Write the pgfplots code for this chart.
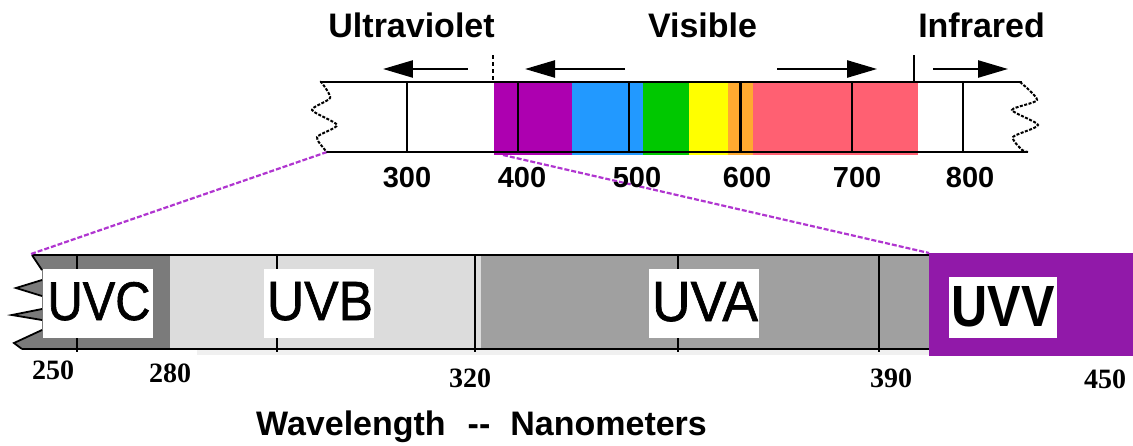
\documentclass[border=0pt]{standalone}
\usepackage{pgfplots}
\pgfplotsset{compat=1.18}
\usetikzlibrary{arrows.meta}
\usepackage{fontspec}
\setmainfont{Liberation Sans}
\newfontfamily\serifb{Liberation Serif}
\newfontfamily\semib{Liberation Sans}[FakeBold=1.2]
\definecolor{violetT}{HTML}{AD00B0}
\definecolor{blueT}{HTML}{2299FF}
\definecolor{greenT}{HTML}{00C800}
\definecolor{yellowT}{HTML}{FFFF00}
\definecolor{orangeT}{HTML}{FFAA30}
\definecolor{redT}{HTML}{FF6072}
\definecolor{uvvP}{HTML}{9119A9}
\definecolor{uvcG}{HTML}{7B7B7B}
\definecolor{uvbG}{HTML}{DCDCDC}
\definecolor{uvaG}{HTML}{A0A0A0}
\definecolor{shadowG}{HTML}{F0F0F0}
\definecolor{magL}{HTML}{B035D0}
\pgfplotsset{diag/.style={width=1133pt,height=445pt,scale only axis,hide axis,clip=false,
  ymin=0,ymax=445,y dir=reverse}}
\tikzset{bl/.style={black,line width=2.4pt},
  arr/.style={black,line width=2.4pt,-{Triangle[length=30pt,width=17pt]}},
  wav/.style={black,line width=2pt,dash pattern=on 3pt off 1.5pt,smooth,tension=0.4}}
\begin{document}
\begin{tikzpicture}
\useasboundingbox (0,0) rectangle (1133pt,445pt);
% ---------------- bottom scale (drawing units) ----------------
\begin{axis}[diag, xmin=0, xmax=1133]
 % UVC
 \addplot[fill=uvcG, draw=none] coordinates {(32,255) (42,270) (42,280) (16,288) (42,296) (42,309) (12,315) (42,320) (42,330) (14,343) (22,349) (170,349) (170,255)} -- cycle;
 % UVB
 \addplot[fill=uvbG, draw=none] coordinates {(170,255) (481,255) (481,349) (170,349)} -- cycle;
 % UVA
 \addplot[fill=uvaG, draw=none] coordinates {(481,255) (929,255) (929,349) (481,349)} -- cycle;
 % shadow
 \addplot[fill=shadowG, draw=none] coordinates {(197,350) (929,350) (929,355) (197,355)} -- cycle;
 % UVV
 \addplot[fill=uvvP, draw=none] coordinates {(929,253) (1133,253) (1133,356) (929,356)} -- cycle;
 % borders
 \addplot[bl] coordinates {(32,255) (929,255)};
 \addplot[bl] coordinates {(22,349) (929,349)};
 \addplot[black,line width=1.8pt] coordinates {(32,255) (42,270)};
 \addplot[black,line width=1.8pt] coordinates {(42,280) (16,288) (42,296)};
 \addplot[black,line width=1.8pt] coordinates {(42,309) (12,315) (42,320)};
 \addplot[black,line width=1.8pt] coordinates {(42,330) (14,343) (22,349)};
 % ticks
 \addplot[bl] coordinates {(77,255) (77,352)};
 \addplot[bl] coordinates {(277,255) (277,352)};
 \addplot[bl] coordinates {(475,255) (475,352)};
 \addplot[bl] coordinates {(678,255) (678,352)};
 \addplot[bl] coordinates {(879,255) (879,352)};
 % white label boxes
 \addplot[fill=white, draw=none] coordinates {(43,269) (153,269) (153,338) (43,338)} -- cycle;
 \addplot[fill=white, draw=none] coordinates {(264,269) (374,269) (374,338) (264,338)} -- cycle;
 \addplot[fill=white, draw=none] coordinates {(649,269) (759,269) (759,338) (649,338)} -- cycle;
 \addplot[fill=white, draw=none] coordinates {(949,277) (1057,277) (1057,338) (949,338)} -- cycle;
 \node[anchor=base,inner sep=0pt] at (axis cs:99,320) {\resizebox{103pt}{38pt}{\semib UVC}};
 \node[anchor=base,inner sep=0pt] at (axis cs:320,320) {\resizebox{106pt}{38pt}{\semib UVB}};
 \node[anchor=base,inner sep=0pt] at (axis cs:705,321) {\resizebox{106pt}{39pt}{\semib UVA}};
 \node[anchor=base,inner sep=0pt] at (axis cs:1003,326) {\resizebox{103pt}{40pt}{\bfseries UVV}};
 % tick labels
 \begin{scope}[every node/.style={anchor=base,inner sep=0pt,font=\serifb\bfseries\fontsize{28}{30}\selectfont}]
 \node at (axis cs:53,379) {250};
 \node at (axis cs:170,382) {280};
 \node at (axis cs:470,387) {320};
 \node at (axis cs:891,387) {390};
 \node at (axis cs:1105,388) {450};
 \end{scope}
 \node[anchor=base west,inner sep=0pt,font=\bfseries\fontsize{34}{38}\selectfont] at (axis cs:256,435) {Wavelength\hspace{22pt}-{}-\hspace{20pt}Nanometers};
 % zoom connector lines
 \addplot[magL,line width=2.2pt,dash pattern=on 5pt off 2pt] coordinates {(327,152) (31,254)};
 \addplot[magL,line width=2.2pt,dash pattern=on 5pt off 2pt] coordinates {(503,155) (929,253)};
\end{axis}
% ---------------- top spectrum (nanometres) ----------------
\begin{axis}[diag, xmin=-65.69, xmax=952.92]
 \addplot[fill=violetT, draw=none] coordinates {(378.4,82) (448.6,82) (448.6,155) (378.4,155)} -- cycle;
 \addplot[fill=blueT,   draw=none] coordinates {(448.6,82) (512.4,82) (512.4,155) (448.6,155)} -- cycle;
 \addplot[fill=greenT,  draw=none] coordinates {(512.4,82) (553.8,82) (553.8,155) (512.4,155)} -- cycle;
 \addplot[fill=yellowT, draw=none] coordinates {(553.8,82) (588.8,82) (588.8,155) (553.8,155)} -- cycle;
 \addplot[fill=orangeT, draw=none] coordinates {(588.8,82) (611.3,82) (611.3,155) (588.8,155)} -- cycle;
 \addplot[fill=redT,    draw=none] coordinates {(611.3,82) (759.6,82) (759.6,155) (611.3,155)} -- cycle;
 % borders
 \addplot[bl] coordinates {(222.0,82) (853.2,82)};
 \addplot[bl] coordinates {(228.3,152) (858.5,152)};
 \addplot[wav] coordinates {(222.0,82) (223.8,83) (231.0,98) (214.8,110) (237.3,125) (219.3,137) (226.5,150) (228.3,152)};
 \addplot[wav] coordinates {(851.3,82) (866.6,100) (844.1,110) (867.5,125) (845.0,137) (853.2,150) (858.5,152)};
 % ticks
 \addplot[bl] coordinates {(300,82) (300,152)};
 \addplot[bl] coordinates {(400,82) (400,152)};
 \addplot[bl] coordinates {(500,82) (500,152)};
 \addplot[bl] coordinates {(600,82) (600,152)};
 \addplot[bl] coordinates {(700,82) (700,152)};
 \addplot[bl] coordinates {(800,82) (800,152)};
 % region separators
 \addplot[black,line width=1.8pt,dash pattern=on 4pt off 3pt] coordinates {(377.5,55) (377.5,82)};
 \addplot[black,line width=2.4pt] coordinates {(756.0,55) (756.0,82)};
 % arrows
 \addplot[arr] coordinates {(355.0,69) (278.6,69)};
 \addplot[arr] coordinates {(496.2,69) (406.3,69)};
 \addplot[arr] coordinates {(632.9,69) (722.8,69)};
 \addplot[arr] coordinates {(773.1,69) (840.5,69)};
 % labels
 \begin{scope}[every node/.style={anchor=base,inner sep=0pt,font=\bfseries\fontsize{34}{38}\selectfont}]
 \node at (axis cs:304.3,37) {Ultraviolet};
 \node at (axis cs:565.9,37) {Visible};
 \node at (axis cs:816.7,37) {Infrared};
 \end{scope}
 \begin{scope}[every node/.style={anchor=base,inner sep=0pt,font=\bfseries\fontsize{29}{31}\selectfont}]
 \node at (axis cs:300.2,187) {300};
 \node at (axis cs:403.6,187) {400};
 \node at (axis cs:507.0,187) {500};
 \node at (axis cs:606.0,187) {600};
 \node at (axis cs:704.8,187) {700};
 \node at (axis cs:806.4,187) {800};
 \end{scope}
\end{axis}
\end{tikzpicture}
\end{document}
